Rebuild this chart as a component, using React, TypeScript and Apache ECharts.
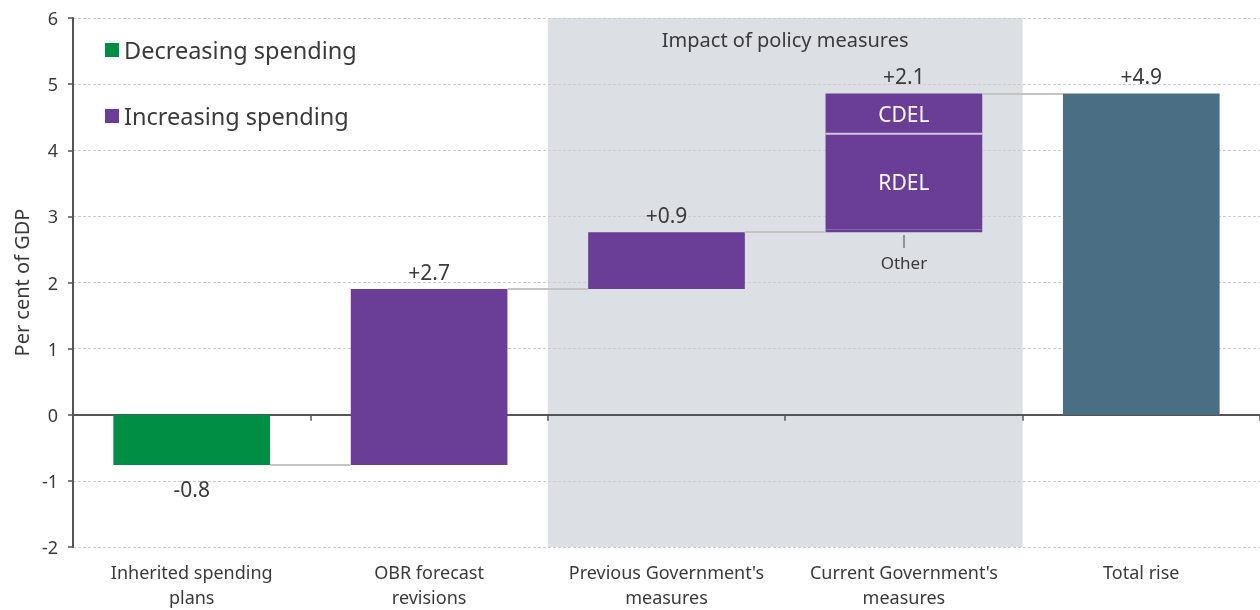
import React, { useEffect, useRef } from 'react';
import * as echarts from 'echarts';

const categories = [
  'Inherited spending\nplans',
  'OBR forecast\nrevisions',
  "Previous Government's\nmeasures",
  "Current Government's\nmeasures",
  'Total rise',
];
const baseValues = [0, -0.76, 1.9, 2.76, 0];
const decreasingValues = [-0.76, 0, 0, 0, 0];
const increasingValues = [0, 2.66, 0.86, 0, 0];
const otherValues = [0, 0, 0, 0.04, 0];
const rdelValues = [0, 0, 0, 1.45, 0];
const cdelValues = [0, 0, 0, 0.61, 0];
const totalValues = [0, 0, 0, 0, 4.86];
const changeLabels = ['-0.8', '+2.7', '+0.9', '+2.1', '+4.9'];
const policyBand = [2, 4];

const GREEN = '#008d44';
const PURPLE = '#6a3d97';
const TOTAL = '#4a6f85';
const TEXT = '#3a3a3a';
const FONT = 'Noto Sans';

export default function App() {
  const ref = useRef<HTMLDivElement>(null);
  useEffect(() => {
    if (!ref.current) return;
    const chart = echarts.init(ref.current, undefined, { renderer: 'svg' });

    const segs = [decreasingValues, increasingValues, otherValues, rdelValues, cdelValues, totalValues];
    const ends = categories.map((_, i) => baseValues[i] + segs.reduce((s, a) => s + a[i], 0));
    const half = 0.33;
    const connectors = [0, 1, 2, 3].map((i) => [
      { coord: [i + 0.5 + half, ends[i]] },
      { coord: [i + 1.5 - half, ends[i]] },
    ]);
    const cdelIdx = cdelValues.findIndex((v) => v !== 0);
    const cdelBase = ends[cdelIdx] - cdelValues[cdelIdx];

    const labelOwner = ['dec', 'inc', 'inc', 'cdel', 'total'];
    const mk = (key: string, vals: number[]) =>
      vals.map((v, i) =>
        labelOwner[i] === key
          ? {
              value: v,
              label: {
                show: true,
                position: v < 0 ? 'bottom' : 'top',
                distance: v < 0 ? 13 : 7,
                formatter: changeLabels[i],
                fontSize: 21,
                color: TEXT,
                fontFamily: FONT,
              },
            }
          : v
      );

    const barCommon = {
      type: 'bar',
      stack: 'w',
      stackStrategy: 'all',
      barWidth: '66%',
      xAxisIndex: 0,
      yAxisIndex: 0,
      silent: true,
    };

    chart.setOption({
      animation: false,
      textStyle: { fontFamily: FONT, color: TEXT },
      grid: { left: 73, right: 0, top: 18, bottom: 63, containLabel: false, outerBoundsMode: 'none' },
      legend: {
        orient: 'vertical',
        left: 100,
        top: 33,
        itemGap: 42,
        itemWidth: 14,
        itemHeight: 14,
        icon: 'rect',
        selectedMode: false,
        data: ['Decreasing spending', 'Increasing spending'],
        textStyle: { fontSize: 23.5, color: TEXT, fontFamily: FONT, padding: [0, 0, 0, 0] },
      },
      xAxis: [
        {
          type: 'category',
          data: categories,
          position: 'bottom',
          axisLine: { show: false, onZero: false },
          axisTick: { show: false },
          splitLine: { show: false },
          axisLabel: { fontSize: 18, lineHeight: 24.5, color: TEXT, margin: 13, fontFamily: FONT, interval: 0 },
        },
        {
          type: 'category',
          data: categories,
          position: 'bottom',
          axisLine: { show: true, onZero: true, lineStyle: { color: '#555', width: 2 } },
          axisTick: { show: true, length: 6, lineStyle: { color: '#555', width: 1.5 } },
          axisLabel: { show: false },
          splitLine: { show: false },
        },
        {
          type: 'value',
          min: 0,
          max: 5,
          show: false,
          splitLine: { show: false },
        },
      ],
      yAxis: {
        type: 'value',
        min: -2,
        max: 6,
        interval: 1,
        name: 'Per cent of GDP',
        nameLocation: 'middle',
        nameGap: 42,
        nameTextStyle: { fontSize: 20, color: TEXT, fontFamily: FONT },
        axisLine: { show: true, lineStyle: { color: '#555', width: 2 } },
        axisTick: { show: true, length: 5, lineStyle: { color: '#555', width: 1.5 } },
        axisLabel: { fontSize: 18, color: TEXT, margin: 15, fontFamily: FONT },
        splitLine: { show: true, lineStyle: { color: '#cdcdcd', type: [3, 2], width: 1 } },
      },
      series: [
        {
          type: 'line',
          name: 'annotations',
          xAxisIndex: 2,
          yAxisIndex: 0,
          data: [],
          silent: true,
          markArea: {
            silent: true,
            z: -1,
            itemStyle: { color: '#dcdfe3' },
            label: {
              show: true,
              position: 'insideTop',
              distance: 11,
              fontSize: 20,
              color: TEXT,
              fontFamily: FONT,
            },
            data: [[{ xAxis: policyBand[0], name: 'Impact of policy measures' }, { xAxis: policyBand[1] }]],
          },
          markLine: {
            silent: true,
            symbol: ['none', 'none'],
            label: { show: false },
            lineStyle: { color: '#c4c4c4', width: 2, type: 'solid' },
            data: [
              ...connectors,
              [
                { coord: [3.5, baseValues[3] - 0.04], lineStyle: { color: '#7a7a7a', width: 1.5, type: 'solid' } },
                { coord: [3.5, baseValues[3] - 0.24] },
              ],
            ],
          },
          markPoint: {
            silent: true,
            symbol: 'circle',
            symbolSize: 1,
            itemStyle: { color: 'transparent' },
            label: { show: true, position: 'inside', fontSize: 17, color: TEXT, fontFamily: FONT },
            data: [{ coord: [3.5, 2.31], value: 'Other', label: { formatter: 'Other' } }],
          },
        },
        { ...barCommon, name: 'base', data: baseValues, itemStyle: { color: 'transparent' } },
        { ...barCommon, name: 'Decreasing spending', data: mk('dec', decreasingValues), itemStyle: { color: GREEN } },
        { ...barCommon, name: 'Increasing spending', data: mk('inc', increasingValues), itemStyle: { color: PURPLE } },
        { ...barCommon, name: 'Other', data: otherValues, itemStyle: { color: PURPLE } },
        {
          ...barCommon,
          name: 'RDEL',
          data: rdelValues.map((v) =>
            v
              ? { value: v, label: { show: true, position: 'inside', formatter: 'RDEL', color: '#fff', fontSize: 21, fontFamily: FONT } }
              : v
          ),
          itemStyle: { color: PURPLE },
        },
        { ...barCommon, name: 'CDEL', data: mk('cdel', cdelValues), itemStyle: { color: PURPLE } },
        { ...barCommon, name: 'Total rise', data: mk('total', totalValues), itemStyle: { color: TOTAL } },
        {
          type: 'custom',
          name: 'cdelText',
          xAxisIndex: 0,
          yAxisIndex: 0,
          silent: true,
          z: 5,
          data: [[cdelIdx, cdelBase, ends[cdelIdx]]],
          renderItem: (params: any, api: any) => {
            const lo = api.coord([api.value(0), api.value(1)]);
            const hi = api.coord([api.value(0), api.value(2)]);
            const w = api.size([1, 0])[0] * 0.66;
            return {
              type: 'group',
              children: [
                {
                  type: 'line',
                  shape: { x1: lo[0] - w / 2, y1: lo[1], x2: lo[0] + w / 2, y2: lo[1] },
                  style: { stroke: '#cfc8dd', lineWidth: 2 },
                },
                {
                  type: 'text',
                  x: lo[0],
                  y: (lo[1] + hi[1]) / 2,
                  style: { text: 'CDEL', fill: '#fff', fontSize: 21, fontFamily: FONT, align: 'center', verticalAlign: 'middle' },
                },
              ],
            };
          },
        },
      ],
    });
    return () => chart.dispose();
  }, []);
  return <div ref={ref} style={{ position: 'fixed', left: 0, top: 0, width: 1260, height: 610 }} />;
}
